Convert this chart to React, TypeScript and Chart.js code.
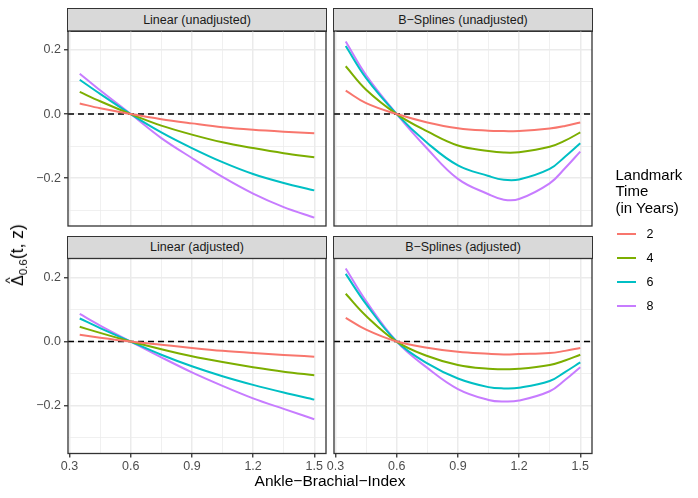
import { useEffect, useRef } from 'react';
import { Chart, registerables } from 'chart.js';

Chart.register(...registerables);

const abiLinear = [0.35, 0.45, 0.6, 0.75, 0.9, 1.05, 1.2, 1.35, 1.5];
const abiSpline = [0.35, 0.45, 0.6, 0.75, 0.9, 1.05, 1.125, 1.2, 1.35, 1.425, 1.5];
const landmarkTimes = ['2', '4', '6', '8'];
const timeColors = ['#F8766D', '#7CAE00', '#00BFC4', '#C77CFF'];

// Linear (unadjusted)
const linUnadj2 = [0.033, 0.018, 0, -0.016, -0.029, -0.041, -0.049, -0.055, -0.06];
const linUnadj4 = [0.069, 0.04, 0, -0.036, -0.064, -0.088, -0.106, -0.122, -0.135];
const linUnadj6 = [0.107, 0.063, 0, -0.057, -0.106, -0.15, -0.187, -0.215, -0.238];
const linUnadj8 = [0.126, 0.074, 0, -0.075, -0.137, -0.196, -0.248, -0.29, -0.323];

// B-Splines (unadjusted)
const bsUnadj2 = [0.073, 0.034, 0, -0.026, -0.044, -0.052, -0.053, -0.053, -0.045, -0.037, -0.026];
const bsUnadj4 = [0.149, 0.076, 0, -0.054, -0.098, -0.115, -0.12, -0.119, -0.102, -0.083, -0.057];
const bsUnadj6 = [0.212, 0.112, 0, -0.09, -0.16, -0.193, -0.205, -0.204, -0.171, -0.133, -0.091];
const bsUnadj8 = [0.226, 0.121, 0, -0.108, -0.202, -0.25, -0.267, -0.265, -0.216, -0.169, -0.117];

// Linear (adjusted)
const linAdj2 = [0.021, 0.012, 0, -0.01, -0.02, -0.029, -0.036, -0.042, -0.047];
const linAdj4 = [0.046, 0.027, 0, -0.024, -0.046, -0.064, -0.08, -0.094, -0.105];
const linAdj6 = [0.072, 0.042, 0, -0.041, -0.077, -0.108, -0.135, -0.159, -0.181];
const linAdj8 = [0.086, 0.05, 0, -0.049, -0.096, -0.138, -0.177, -0.21, -0.242];

// B-Splines (adjusted)
const bsAdj2 = [0.074, 0.037, 0, -0.019, -0.032, -0.038, -0.04, -0.039, -0.036, -0.029, -0.02];
const bsAdj4 = [0.149, 0.08, 0, -0.045, -0.073, -0.085, -0.086, -0.085, -0.073, -0.059, -0.041];
const bsAdj6 = [0.211, 0.117, 0, -0.068, -0.115, -0.142, -0.146, -0.144, -0.123, -0.095, -0.065];
const bsAdj8 = [0.228, 0.126, 0, -0.082, -0.148, -0.182, -0.187, -0.184, -0.155, -0.12, -0.08];

const xMajor = [0.3, 0.6, 0.9, 1.2, 1.5];
const xMinor = [0.45, 0.75, 1.05, 1.35];
const yMajor = [-0.2, 0, 0.2];
const yMinor = [-0.3, -0.1, 0.1];
const refLine = 0;

const XMIN = 0.2925;
const XMAX = 1.5575;
const YMIN = -0.349;
const YMAX = 0.259;

const W = 698;
const H = 498;
const colLeft = [68, 334];
const panelW = 258;
const rowTop = [31, 258.5];
const panelH = 195;
const stripH = 23;
const AXW = 40;
const AXH = 24;
const FONT = '"Liberation Sans", Arial, Helvetica, sans-serif';

const panels = [
  { title: 'Linear (unadjusted)', col: 0, row: 0, xs: abiLinear, spline: false, series: [linUnadj2, linUnadj4, linUnadj6, linUnadj8] },
  { title: 'B\u2212Splines (unadjusted)', col: 1, row: 0, xs: abiSpline, spline: true, series: [bsUnadj2, bsUnadj4, bsUnadj6, bsUnadj8] },
  { title: 'Linear (adjusted)', col: 0, row: 1, xs: abiLinear, spline: false, series: [linAdj2, linAdj4, linAdj6, linAdj8] },
  { title: 'B\u2212Splines (adjusted)', col: 1, row: 1, xs: abiSpline, spline: true, series: [bsAdj2, bsAdj4, bsAdj6, bsAdj8] },
];

const isMajor = (v: number, majors: number[]) => majors.some((m) => Math.abs(m - v) < 1e-6);
const fmt = (v: number) => v.toFixed(1).replace('-', '\u2212');

const panelDecor = {
  id: 'panelDecor',
  beforeDatasetsDraw(chart: any) {
    const { ctx, chartArea: a } = chart;
    const y0 = chart.scales.y.getPixelForValue(refLine);
    ctx.save();
    ctx.strokeStyle = '#000000';
    ctx.lineWidth = 1.4;
    ctx.setLineDash([6, 4]);
    ctx.beginPath();
    ctx.moveTo(a.left, y0);
    ctx.lineTo(a.right, y0);
    ctx.stroke();
    ctx.restore();
  },
  afterDraw(chart: any) {
    const { ctx, chartArea: a } = chart;
    ctx.save();
    ctx.strokeStyle = '#333333';
    ctx.lineWidth = 1.3;
    ctx.strokeRect(a.left, a.top, a.right - a.left, a.bottom - a.top);
    ctx.restore();
  },
};

function Panel({ xs, spline, series, col, row }: { xs: number[]; spline: boolean; series: number[][]; col: number; row: number }) {
  const ref = useRef<HTMLCanvasElement | null>(null);
  useEffect(() => {
    if (!ref.current) return;
    const left = colLeft[col];
    const top = rowTop[row];
    const showX = row === 1;
    const showY = col === 0;
    const chart = new Chart(ref.current, {
      type: 'line',
      data: {
        datasets: series.map((ys, i) => ({
          label: landmarkTimes[i],
          data: xs.map((x, j) => ({ x, y: ys[j] })),
          borderColor: timeColors[i],
          borderWidth: 2,
          pointRadius: 0,
          cubicInterpolationMode: spline ? ('default' as const) : ('monotone' as const),
          tension: 0.4,
          fill: false,
        })),
      },
      options: {
        responsive: false,
        animation: false,
        events: [],
        layout: {
          padding: {
            left: left - AXW,
            top: top,
            right: W - left - panelW,
            bottom: H - top - panelH - AXH,
          },
        },
        plugins: { legend: { display: false }, tooltip: { enabled: false } },
        scales: {
          x: {
            type: 'linear',
            min: XMIN,
            max: XMAX,
            afterBuildTicks: (s: any) => {
              s.ticks = [...xMajor, ...xMinor].sort((a, b) => a - b).map((value) => ({ value }));
            },
            afterFit: (s: any) => {
              s.height = AXH;
            },
            border: { display: false },
            grid: {
              color: '#EBEBEB',
              lineWidth: (c: any) => (c.tick && isMajor(c.tick.value, xMajor) ? 1.5 : 0.75),
              drawTicks: showX,
              tickLength: 4,
              tickWidth: 1.3,
              tickColor: (c: any) => (c.tick && isMajor(c.tick.value, xMajor) ? '#333333' : 'rgba(0,0,0,0)'),
            },
            ticks: {
              display: showX,
              autoSkip: false,
              maxRotation: 0,
              padding: 2,
              color: '#4D4D4D',
              font: { family: FONT, size: 12.5 },
              callback: (v: any) => (isMajor(Number(v), xMajor) ? fmt(Number(v)) : ''),
            },
          },
          y: {
            type: 'linear',
            min: YMIN,
            max: YMAX,
            afterBuildTicks: (s: any) => {
              s.ticks = [...yMajor, ...yMinor].sort((a, b) => a - b).map((value) => ({ value }));
            },
            afterFit: (s: any) => {
              s.width = AXW;
            },
            border: { display: false },
            grid: {
              color: '#EBEBEB',
              lineWidth: (c: any) => (c.tick && isMajor(c.tick.value, yMajor) ? 1.5 : 0.75),
              drawTicks: showY,
              tickLength: 4,
              tickWidth: 1.3,
              tickColor: (c: any) => (c.tick && isMajor(c.tick.value, yMajor) ? '#333333' : 'rgba(0,0,0,0)'),
            },
            ticks: {
              display: showY,
              autoSkip: false,
              padding: 3,
              color: '#4D4D4D',
              font: { family: FONT, size: 12.5 },
              callback: (v: any) => (isMajor(Number(v), yMajor) ? fmt(Number(v)) : ''),
            },
          },
        },
      },
      plugins: [panelDecor],
    });
    return () => chart.destroy();
  }, [xs, spline, series, col, row]);

  return (
    <canvas
      ref={ref}
      width={W}
      height={H}
      style={{ position: 'absolute', left: 0, top: 0, width: W, height: H }}
    />
  );
}

export default function App() {
  return (
    <div
      style={{
        position: 'absolute',
        left: 0,
        top: 0,
        width: W,
        height: H,
        background: '#FFFFFF',
        fontFamily: FONT,
        overflow: 'hidden',
      }}
    >
      {panels.map((p) => (
        <div
          key={p.title}
          style={{
            position: 'absolute',
            left: colLeft[p.col] - 0.65,
            top: rowTop[p.row] - stripH,
            width: panelW + 1.3,
            height: stripH + 0.65,
            boxSizing: 'border-box',
            background: '#D9D9D9',
            border: '1.3px solid #333333',
            color: '#1A1A1A',
            fontSize: 12.5,
            display: 'flex',
            alignItems: 'center',
            justifyContent: 'center',
          }}
        >
          {p.title}
        </div>
      ))}
      {panels.map((p) => (
        <Panel key={p.title + '-c'} xs={p.xs} spline={p.spline} series={p.series} col={p.col} row={p.row} />
      ))}

      {/* x axis title */}
      <div
        style={{
          position: 'absolute',
          left: colLeft[0],
          width: colLeft[1] + panelW - colLeft[0],
          top: 472,
          textAlign: 'center',
          fontSize: 15.5,
          color: '#000',
          lineHeight: '18px',
        }}
      >
        Ankle{'\u2212'}Brachial{'\u2212'}Index
      </div>

      {/* y axis title */}
      <div
        style={{
          position: 'absolute',
          left: 18,
          top: 255,
          transform: 'translate(-50%, -50%) rotate(-90deg)',
          whiteSpace: 'nowrap',
          fontSize: 16,
          color: '#000',
          lineHeight: '20px',
        }}
      >
        <span style={{ position: 'relative', display: 'inline-block' }}>
          {'\u0394'}
          <span
            style={{
              position: 'absolute',
              left: 0,
              right: 0,
              top: '-0.6em',
              textAlign: 'center',
              fontSize: '0.85em',
            }}
          >
            ^
          </span>
        </span>
        <span style={{ fontSize: 11.5, position: 'relative', top: 4 }}>0.6</span>
        <span style={{ fontSize: 17.5 }}>(t, z)</span>
      </div>

      {/* legend */}
      <div style={{ position: 'absolute', left: 615.5, top: 166.5, fontSize: 15, lineHeight: '16.7px', color: '#000' }}>
        <div>Landmark</div>
        <div>Time</div>
        <div>(in Years)</div>
      </div>
      {landmarkTimes.map((t, i) => (
        <div
          key={t}
          style={{
            position: 'absolute',
            left: 616.5,
            top: 222 + i * 24,
            height: 24,
            display: 'flex',
            alignItems: 'center',
          }}
        >
          <div style={{ width: 19.5, height: 2, background: timeColors[i] }} />
          <div style={{ marginLeft: 10.5, fontSize: 12.5, color: '#000' }}>{t}</div>
        </div>
      ))}
    </div>
  );
}
